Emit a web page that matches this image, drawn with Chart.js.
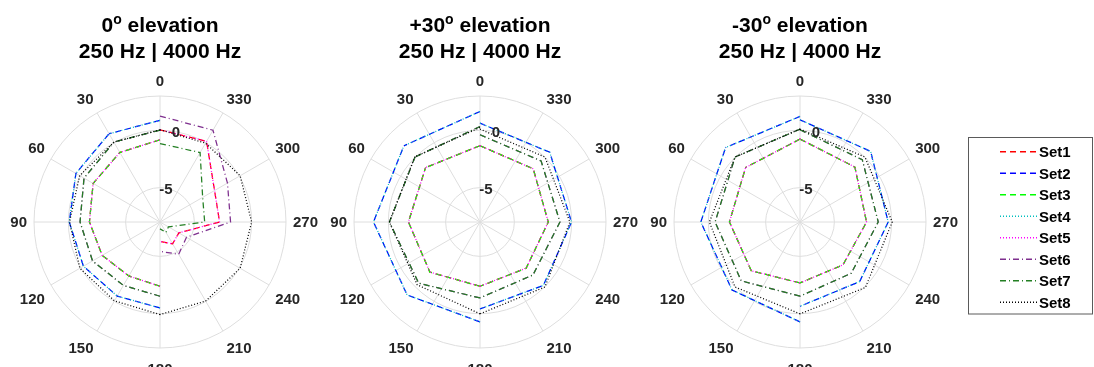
<!DOCTYPE html>
<html>
<head>
<meta charset="utf-8">
<script src="https://cdn.jsdelivr.net/npm/chart.js@4.4.1/dist/chart.umd.min.js"></script>
<style>
  html, body { margin: 0; padding: 0; background: #ffffff; overflow: hidden; width: 1094px; height: 367px; }
  canvas { position: absolute; top: 0; }
</style>
</head>
<body>
<canvas id="c0" width="320" height="367" style="left:0px"></canvas>
<canvas id="c1" width="320" height="367" style="left:320px"></canvas>
<canvas id="c2" width="454" height="367" style="left:640px"></canvas>
<script>
// ---------------- DATA ----------------
const setNames = ['Set1', 'Set2', 'Set3', 'Set4', 'Set5', 'Set6', 'Set7', 'Set8'];
const panelElev = ['0', '+30', '-30'];
const panelSub = '250 Hz | 4000 Hz';

// angular tick labels (every 30 deg, clockwise order starting at top)
const thetaTickLabels = ['0', '330', '300', '270', '240', '210', '180', '150', '120', '90', '60', '30'];
// radial scale
const rTicks = [-8, -5, 0, 3];
const rTickLabels = ['', '-5', '0', ''];

// angles (deg, counter-clockwise from top)
const thetaL0 = [0, 30, 60, 90, 120, 150, 180];        // 250 Hz half, 0 deg elevation
const thetaR0 = [180, 210, 240, 270, 300, 330, 360];   // 4000 Hz half, 0 deg elevation
const thetaL30 = [0, 45, 90, 135, 180];                // 250 Hz half, +/-30 deg elevation
const thetaR30 = [180, 225, 270, 315, 360];            // 4000 Hz half, +/-30 deg elevation

// 0 deg elevation, 250 Hz (rows Set1..Set8, columns thetaL0)
const el0_250 = [
  [-0.82, -0.99, -1.26, -1.84, -2.17, -2.56, -2.39],
  [0.87, 0.90, 0.48, -0.08, -0.28, -0.53, -0.50],
  [-0.82, -0.99, -1.26, -1.84, -2.17, -2.56, -2.39],
  [0.87, 0.90, 0.48, -0.08, -0.28, -0.53, -0.50],
  [-0.82, -0.99, -1.26, -1.84, -2.17, -2.56, -2.39],
  [0.02, 0.05, -0.34, -1.02, -1.20, -1.61, -1.52],
  [0.02, 0.05, -0.34, -1.02, -1.20, -1.61, -1.52],
  [0.05, 0.05, 0.10, -0.10, 0.08, -0.05, 0.08]
];
// 0 deg elevation, 4000 Hz (columns thetaR0)
const el0_4000 = [
  [-6.30, -5.80, -6.10, -2.80, -2.50, 0.13, 0.05],
  [null, null, null, null, null, null, null],
  [null, null, null, null, null, null, null],
  [null, null, null, null, null, null, null],
  [-6.30, -5.80, -6.10, -2.80, -2.50, 0.13, 0.05],
  [-5.44, -4.74, -5.33, -1.84, -1.20, 1.25, 1.25],
  [-7.40, -6.95, -7.15, -4.10, -3.70, -1.00, -1.15],
  [0.08, -0.03, 0.08, 0.00, 0.08, -0.05, 0.05]
];
// +30 deg elevation, 250 Hz (columns thetaL30)
const elP30_250 = [
  [-1.34, -1.28, -1.75, -1.81, -2.39],
  [1.65, 1.40, 1.30, 1.00, 0.72],
  [-1.34, -1.28, -1.75, -1.81, -2.39],
  [1.65, 1.40, 1.30, 1.00, 0.72],
  [-1.34, -1.28, -1.75, -1.81, -2.39],
  [0.34, 0.02, -0.09, -0.44, -1.37],
  [0.34, 0.02, -0.09, -0.44, -1.37],
  [0.25, 0.05, -0.09, -0.25, 0.02]
];
// +30 deg elevation, 4000 Hz (columns thetaR30)
const elP30_4000 = [
  [-2.39, -2.30, -2.04, -1.43, -1.34],
  [-0.41, -0.17, -0.01, 0.61, 0.63],
  [-2.39, -2.30, -2.04, -1.43, -1.34],
  [-0.41, -0.17, -0.01, 0.61, 0.63],
  [-2.39, -2.30, -2.04, -1.43, -1.34],
  [-1.37, -1.46, -1.02, -0.46, -0.38],
  [-1.37, -1.46, -1.02, -0.46, -0.38],
  [0.02, 0.02, -0.15, 0.02, 0.11]
];
// -30 deg elevation, 250 Hz (columns thetaL30)
const elM30_250 = [
  [-0.76, -1.28, -1.84, -1.98, -2.68],
  [1.22, 1.19, 0.66, 0.39, 0.72],
  [-0.76, -1.28, -1.84, -1.98, -2.68],
  [1.22, 1.19, 0.66, 0.39, 0.72],
  [-0.76, -1.28, -1.84, -1.98, -2.68],
  [0.11, 0.02, -0.59, -0.74, -1.52],
  [0.11, 0.02, -0.59, -0.74, -1.52],
  [0.11, 0.02, -0.09, 0.02, 0.02]
];
// -30 deg elevation, 4000 Hz (columns thetaR30)
const elM30_4000 = [
  [-2.68, -2.70, -2.19, -1.22, -0.76],
  [-0.64, -0.64, -0.30, 0.72, 0.92],
  [-2.68, -2.70, -2.19, -1.22, -0.76],
  [-0.64, -0.64, -0.30, 0.72, 0.92],
  [-2.68, -2.70, -2.19, -1.22, -0.76],
  [-1.52, -1.67, -1.17, -0.31, 0.05],
  [-1.52, -1.67, -1.17, -0.31, 0.05],
  [0.02, 0.08, 0.05, 0.02, 0.11]
];

// ---------------- STYLE ----------------
const setColors = ['#FF0000', '#0000FF', '#00FF00', '#00BFBF', '#FF00FF', '#7E2F8E', '#237F23', '#000000'];
const setDashes = [[6, 4], [6, 4], [6, 4], [1, 2], [1, 2], [6, 3, 1, 3], [6, 3, 1, 3], [1, 2]];
const FONT = '"Liberation Sans", Arial, Helvetica, sans-serif';
const GRID = '#DEDEDE';
const TXT = '#262626';
const LW = 1.25;
const NSPOKE = 24; // 15 deg spokes

const spokeLabels = Array.from({length: NSPOKE}, (_, i) => String((360 - 15 * i) % 360));

function spokeIndex(theta) { return ((360 - theta) / 15) % NSPOKE; }
function toSpokes(thetas, vals) {
  const arr = new Array(NSPOKE).fill(null);
  thetas.forEach((t, k) => { if (vals[k] !== null && vals[k] !== undefined) arr[spokeIndex(t)] = vals[k]; });
  return arr;
}
function hasData(vals) { return vals.some(v => v !== null); }

function buildDatasets(thL, valsL, thR, valsR) {
  const ds = [];
  for (let s = 0; s < setNames.length; s++) {
    const base = {
      label: setNames[s], borderColor: setColors[s], backgroundColor: setColors[s],
      borderDash: setDashes[s], borderWidth: LW, fill: false, spanGaps: true,
      pointRadius: 0, pointHitRadius: 0, tension: 0, order: 8 - s
    };
    let first = true;
    if (hasData(valsL[s])) {
      // 250 Hz half: from 30/45 deg to 180 deg, plus the piece from 0 deg
      ds.push(Object.assign({}, base, {data: toSpokes(thL.slice(1), valsL[s].slice(1)), legendMain: first}));
      first = false;
      ds.push(Object.assign({}, base, {data: toSpokes(thL.slice(0, 2), valsL[s].slice(0, 2)), legendMain: false}));
    }
    if (hasData(valsR[s])) {
      ds.push(Object.assign({}, base, {data: toSpokes(thR, valsR[s]), legendMain: first}));
      first = false;
    }
  }
  return ds;
}

// ---------------- PLUGINS ----------------
const openLines = {
  id: 'openLines',
  beforeDatasetsDraw(chart) {
    chart.getSortedVisibleDatasetMetas().forEach(meta => {
      const line = meta.dataset;
      if (line) { line._loop = false; line._fullLoop = false; delete line._segments; delete line._path; }
    });
  }
};

const polarText = {
  id: 'polarText',
  afterDraw(chart, args, opts) {
    const ctx = chart.ctx;
    const sc = chart.scales.r;
    const cx = sc.xCenter, cy = sc.yCenter, R = sc.drawingArea;
    ctx.save();
    // angular labels (anchored just outside the outer ring)
    ctx.font = 'bold 15px ' + FONT;
    ctx.fillStyle = TXT;
    ctx.textBaseline = 'alphabetic';
    const capH = 10.7;
    const RL = R + 7;
    thetaTickLabels.forEach((lab, k) => {
      const a = (k * 30) * Math.PI / 180;
      const dx = Math.sin(a), dy = -Math.cos(a);
      const ax = cx + RL * dx, ay = cy + RL * dy;
      ctx.textAlign = dx > 0.01 ? 'left' : (dx < -0.01 ? 'right' : 'center');
      let gy;
      if (dy < -0.01) gy = ay - 8.1;
      else if (dy > 0.99) gy = ay + 13.5;
      else if (dy > 0.01) gy = ay + 10;
      else gy = ay;
      ctx.fillText(lab, ax, gy + capH / 2);
    });
    // radial labels at 10 deg clockwise from top
    ctx.textAlign = 'center';
    const ra = 10 * Math.PI / 180;
    rTicks.forEach((v, k) => {
      if (!rTickLabels[k]) return;
      const d = sc.getDistanceFromCenterForValue(v);
      ctx.fillText(rTickLabels[k], cx + d * Math.sin(ra), cy - d * Math.cos(ra) + capH / 2);
    });
    // title
    ctx.fillStyle = '#000000';
    ctx.textAlign = 'left';
    const big = 'bold 21px ' + FONT, small = 'bold 14px ' + FONT;
    const prefix = opts.elev;
    ctx.font = big;
    const w1 = ctx.measureText(prefix).width;
    const w3 = ctx.measureText(' elevation').width;
    ctx.font = small;
    const w2 = ctx.measureText('o').width;
    let x = cx - (w1 + w2 + w3) / 2;
    ctx.font = big; ctx.fillText(prefix, x, 32); x += w1;
    ctx.font = small; ctx.fillText('o', x, 23.5); x += w2;
    ctx.font = big; ctx.fillText(' elevation', x, 32);
    ctx.textAlign = 'center';
    ctx.fillText(panelSub, cx, 57.5);
    ctx.restore();
  }
};

const boxLegend = {
  id: 'boxLegend',
  afterDraw(chart, args, opts) {
    if (!opts.show) return;
    const ctx = chart.ctx;
    const ox = opts.x0; // canvas offset
    ctx.save();
    ctx.strokeStyle = '#5A5A5A';
    ctx.lineWidth = 1;
    ctx.strokeRect(968.5 - ox, 137.5, 124, 176.5);
    const items = chart.data.datasets.filter(d => d.legendMain);
    items.forEach((d, i) => {
      const y = 151.7 + 21.5 * i;
      ctx.strokeStyle = d.borderColor;
      ctx.lineWidth = 1.5;
      ctx.setLineDash(d.borderDash);
      ctx.beginPath();
      ctx.moveTo(1000 - ox, y);
      ctx.lineTo(1037 - ox, y);
      ctx.stroke();
      ctx.setLineDash([]);
      ctx.fillStyle = '#000000';
      ctx.font = 'bold 15px ' + FONT;
      ctx.textAlign = 'left';
      ctx.textBaseline = 'alphabetic';
      ctx.fillText(d.label, 1039 - ox, y + 5.35);
    });
    ctx.restore();
  }
};

// ---------------- CHARTS ----------------
function makePanel(id, elev, thL, valsL, thR, valsR, padRight, legend, x0) {
  return new Chart(document.getElementById(id), {
    type: 'radar',
    data: { labels: spokeLabels, datasets: buildDatasets(thL, valsL, thR, valsR) },
    options: {
      responsive: false,
      animation: false,
      events: [],
      layout: { padding: { left: 34, right: padRight, top: 96, bottom: 19 } },
      plugins: {
        legend: { display: false },
        tooltip: { enabled: false },
        title: { display: false },
        polarText: { elev: elev },
        boxLegend: { show: legend, x0: x0 }
      },
      scales: {
        r: {
          min: -8, max: 3,
          startAngle: 0,
          afterBuildTicks: (scale) => { scale.ticks = rTicks.map(v => ({ value: v })); },
          ticks: { display: false },
          pointLabels: { display: false },
          grid: { circular: true, color: GRID, lineWidth: 1 },
          angleLines: {
            display: true,
            color: (c) => (c.index % 2 === 0 ? GRID : 'rgba(0,0,0,0)'),
            lineWidth: (c) => (c.index % 2 === 0 ? 1 : 0)
          }
        }
      }
    },
    plugins: [openLines, polarText, boxLegend]
  });
}

makePanel('c0', panelElev[0], thetaL0, el0_250, thetaR0, el0_4000, 34, false, 0);
makePanel('c1', panelElev[1], thetaL30, elP30_250, thetaR30, elP30_4000, 34, false, 320);
makePanel('c2', panelElev[2], thetaL30, elM30_250, thetaR30, elM30_4000, 168, true, 640);
</script>
</body>
</html>
